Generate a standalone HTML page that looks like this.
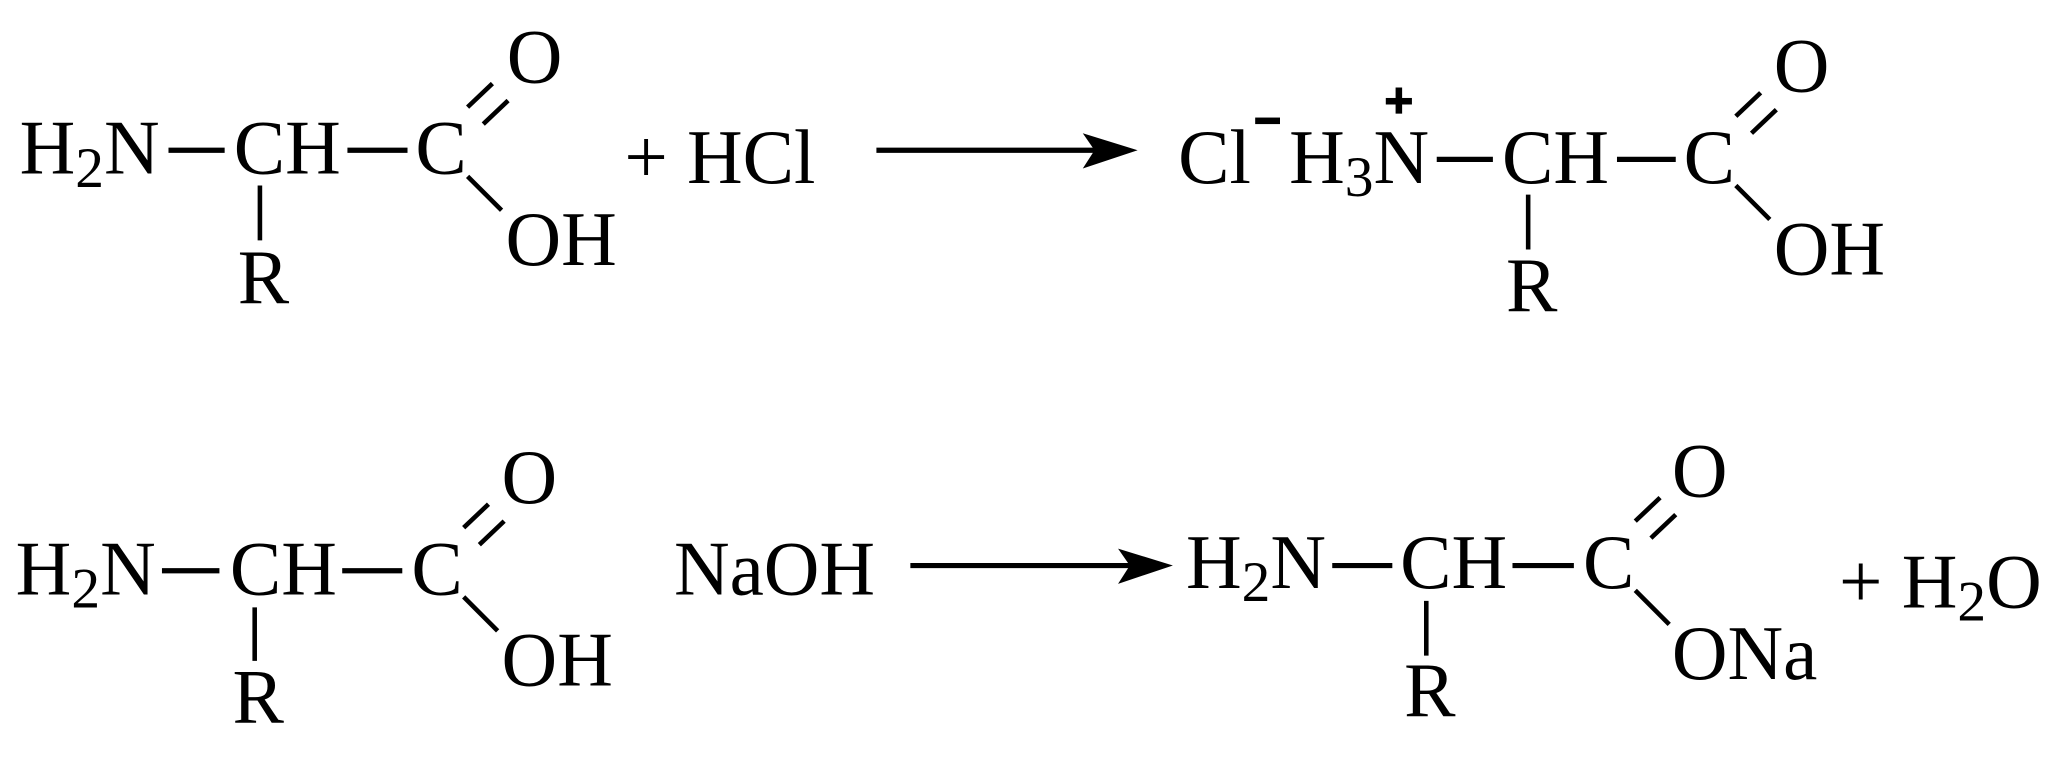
<!DOCTYPE html>
<html><head><meta charset="utf-8"><style>html,body{margin:0;padding:0;background:#fff}svg{display:block}</style></head><body>
<svg width="2048" height="765" viewBox="0 0 1568 585.7" xmlns="http://www.w3.org/2000/svg" font-family="'Liberation Serif', serif" font-size="59" fill="#000">
<defs>
<g id="cooh" stroke="#000" stroke-width="3.5">
<line x1="40" y1="-51" x2="59" y2="-69"/>
<line x1="52" y1="-38" x2="71" y2="-56"/>
<line x1="40" y1="2" x2="66" y2="28"/>
</g>
</defs>
<g stroke="#000" stroke-width="4">
<line x1="129" y1="115" x2="172" y2="115"/>
<line x1="266" y1="115" x2="312" y2="115"/>
<line x1="199" y1="142" x2="199" y2="184" stroke-width="3.5"/>
<line x1="671" y1="115" x2="845" y2="115"/>
<line x1="1100" y1="122" x2="1143" y2="122"/>
<line x1="1238" y1="122" x2="1283" y2="122"/>
<line x1="1170" y1="149" x2="1170" y2="191" stroke-width="3.5"/>
<line x1="124" y1="437" x2="168" y2="437"/>
<line x1="262" y1="437" x2="308" y2="437"/>
<line x1="195" y1="465" x2="195" y2="506" stroke-width="3.5"/>
<line x1="697" y1="433" x2="870" y2="433"/>
<line x1="1020" y1="433" x2="1066" y2="433"/>
<line x1="1158" y1="433" x2="1205" y2="433"/>
<line x1="1092" y1="460" x2="1092" y2="502" stroke-width="3.5"/>
</g>
<polygon points="829,102 871,115 829,129 838,115"/>
<polygon points="856,420 898,433 856,447 865,433"/>
<use href="#cooh" transform="translate(318,133)"/>
<use href="#cooh" transform="translate(1289,140)"/>
<use href="#cooh" transform="translate(315,455)"/>
<use href="#cooh" transform="translate(1212,450)"/>

<text x="15" y="133">H<tspan font-size="44" dy="10">2</tspan><tspan dy="-10">N</tspan></text>
<text x="179" y="133">CH</text>
<text x="318" y="133">C</text>
<text x="388" y="63">O</text>
<text x="387" y="203">OH</text>
<text x="182" y="232">R</text>
<text x="478" y="140">+ HCl</text>
<text x="902" y="140">Cl</text>
<rect x="961" y="90" width="19" height="5"/>
<text x="987" y="140">H<tspan font-size="44" dy="10">3</tspan><tspan dy="-10">N</tspan></text>
<rect x="1061" y="75" width="20" height="5"/>
<rect x="1068.5" y="67" width="5" height="20"/>
<text x="1150" y="140">CH</text>
<text x="1289" y="140">C</text>
<text x="1358" y="70">O</text>
<text x="1358" y="210">OH</text>
<text x="1153" y="238">R</text>
<text x="12" y="455">H<tspan font-size="44" dy="10">2</tspan><tspan dy="-10">N</tspan></text>
<text x="176" y="455">CH</text>
<text x="315" y="455">C</text>
<text x="384" y="385">O</text>
<text x="384" y="525">OH</text>
<text x="178" y="553">R</text>
<text x="516" y="455">NaOH</text>
<text x="908" y="450">H<tspan font-size="44" dy="10">2</tspan><tspan dy="-10">N</tspan></text>
<text x="1072" y="450">CH</text>
<text x="1212" y="450">C</text>
<text x="1280" y="380">O</text>
<text x="1280" y="520">ONa</text>
<text x="1075" y="548">R</text>
<text x="1408" y="465">+ H<tspan font-size="44" dy="10">2</tspan><tspan dy="-10">O</tspan></text>
</svg>
</body></html>
